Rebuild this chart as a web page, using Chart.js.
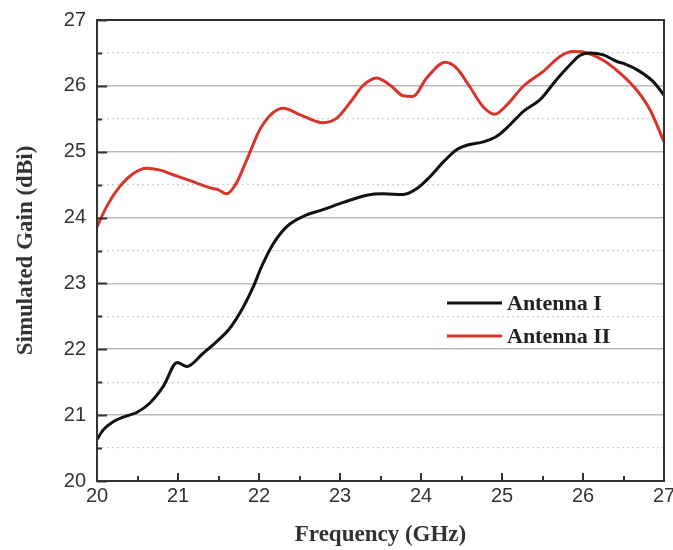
<!DOCTYPE html>
<html>
<head>
<meta charset="utf-8">
<script src="https://cdn.jsdelivr.net/npm/chart.js@4"></script>
<style>
  html, body { margin: 0; padding: 0; background: #fff; }
  #wrap { width: 673px; height: 550px; }
</style>
</head>
<body>
<div id="wrap"><canvas id="myChart"></canvas></div>
<script>
const freqI = [20.00,20.08,20.20,20.37,20.49,20.65,20.82,20.99,21.11,21.31,21.48,21.64,21.81,21.93,22.03,22.18,22.34,22.55,22.79,23.04,23.33,23.53,23.78,23.95,24.11,24.28,24.44,24.60,24.77,24.93,25.10,25.26,25.47,25.67,25.84,25.96,26.09,26.25,26.42,26.50,26.70,26.87,27.00]
const gainI = [20.63,20.78,20.90,20.99,21.04,21.18,21.44,21.80,21.74,21.94,22.12,22.32,22.65,22.95,23.25,23.61,23.86,24.02,24.12,24.23,24.34,24.36,24.35,24.44,24.62,24.85,25.03,25.11,25.15,25.23,25.41,25.61,25.79,26.09,26.32,26.46,26.50,26.47,26.37,26.34,26.22,26.06,25.86]

const freqII = [20.00,20.12,20.28,20.45,20.61,20.78,20.94,21.15,21.40,21.50,21.60,21.72,21.85,22.03,22.30,22.51,22.79,22.96,23.12,23.29,23.45,23.62,23.78,23.90,24.07,24.30,24.44,24.60,24.77,24.91,25.06,25.26,25.51,25.72,25.88,26.05,26.25,26.46,26.66,26.83,27.00]
const gainII = [23.86,24.17,24.47,24.67,24.75,24.72,24.65,24.56,24.45,24.42,24.36,24.52,24.88,25.38,25.66,25.56,25.44,25.51,25.74,26.01,26.12,26.01,25.85,25.84,26.12,26.36,26.27,25.99,25.68,25.57,25.71,25.99,26.22,26.45,26.52,26.50,26.39,26.19,25.94,25.63,25.15]

const seriesNames = ['Antenna I', 'Antenna II']
const xTickValues = [20, 20.5, 21, 21.5, 22, 22.5, 23, 23.5, 24, 24.5, 25, 25.5, 26, 26.5, 27]
const yTickValues = [20, 20.5, 21, 21.5, 22, 22.5, 23, 23.5, 24, 24.5, 25, 25.5, 26, 26.5, 27]

const pts = (xs, ys) => xs.map((x, i) => ({x: x, y: ys[i]}))
const isMajor = v => Math.abs(v - Math.round(v)) < 1e-6

// frame, inward ticks and the legend inside the plot
const framePlugin = {
  id: 'frame',
  afterDraw(chart) {
    const c = chart.ctx, a = chart.chartArea
    const xs = chart.scales.x, ys = chart.scales.y
    c.save()
    c.strokeStyle = '#333'
    c.lineWidth = 2
    c.beginPath()
    yTickValues.forEach(v => {
      const p = Math.round(ys.getPixelForValue(v)) + 0.5
      c.moveTo(a.left, p); c.lineTo(a.left + (isMajor(v) ? 10 : 5), p)
    })
    xTickValues.forEach(v => {
      const p = Math.round(xs.getPixelForValue(v))
      c.moveTo(p, a.bottom); c.lineTo(p, a.bottom - (isMajor(v) ? 8 : 5))
    })
    c.stroke()
    c.strokeRect(a.left, a.top, a.right - a.left, a.bottom - a.top)

    // legend
    c.font = 'bold 22px "Liberation Serif", "Times New Roman", serif'
    c.textBaseline = 'middle'
    c.fillStyle = '#222'
    chart.data.datasets.forEach((ds, i) => {
      const y = a.top + 283 + i * 33
      c.strokeStyle = ds.borderColor
      c.lineWidth = 3
      c.beginPath()
      c.moveTo(a.left + 350, y); c.lineTo(a.left + 405, y)
      c.stroke()
      c.fillText(ds.label, a.left + 410, y + 1)
    })
    c.restore()
  }
}

const ctx = document.getElementById('myChart')
const myChart = new Chart(ctx, {
  type: 'line',
  data: {
    datasets: [{
      label: seriesNames[0],
      data: pts(freqI, gainI),
      borderColor: '#111111',
      borderWidth: 3,
      pointRadius: 0,
      cubicInterpolationMode: 'monotone'
    }, {
      label: seriesNames[1],
      data: pts(freqII, gainII),
      borderColor: '#d9342b',
      borderWidth: 3,
      pointRadius: 0,
      cubicInterpolationMode: 'monotone'
    }]
  },
  options: {
    responsive: true,
    maintainAspectRatio: false,
    animation: false,
    layout: { padding: { top: 20, right: 9, left: 0, bottom: 0 } },
    plugins: { legend: { display: false }, tooltip: { enabled: false } },
    scales: {
      x: {
        type: 'linear',
        min: 20,
        max: 27,
        afterBuildTicks: s => { s.ticks = xTickValues.map(v => ({value: v})) },
        afterFit: s => { s.height = 69; s.paddingLeft = 0; s.paddingRight = 0 },
        grid: { display: false, drawTicks: false },
        border: { display: false },
        ticks: {
          autoSkip: false,
          maxRotation: 0,
          padding: 3,
          color: '#333',
          font: { family: '"Liberation Sans", Arial, sans-serif', size: 20 },
          callback: v => isMajor(v) ? v : ''
        },
        title: {
          display: true,
          text: 'Frequency (GHz)',
          color: '#333',
          padding: { top: 0, bottom: 1 },
          font: { family: '"Liberation Serif", "Times New Roman", serif', size: 23, weight: 'bold' }
        }
      },
      y: {
        min: 20,
        max: 27,
        afterBuildTicks: s => { s.ticks = yTickValues.map(v => ({value: v})) },
        afterFit: s => { s.width = 97; s.paddingTop = 0; s.paddingBottom = 0 },
        grid: {
          drawTicks: false,
          color: c => (c.tick.value === 20 || c.tick.value === 27) ? 'transparent' : (isMajor(c.tick.value) ? '#b9b9c3' : '#cfcfcf'),
          lineWidth: c => isMajor(c.tick.value) ? 1.6 : 1.3
        },
        border: {
          display: false,
          dash: c => (c.tick && !isMajor(c.tick.value)) ? [2, 3] : []
        },
        ticks: {
          autoSkip: false,
          padding: 11,
          color: '#333',
          font: { family: '"Liberation Sans", Arial, sans-serif', size: 20 },
          callback: v => isMajor(v) ? v : ''
        },
        title: {
          display: true,
          text: 'Simulated Gain (dBi)',
          color: '#333',
          padding: { top: 12, bottom: 0 },
          font: { family: '"Liberation Serif", "Times New Roman", serif', size: 23, weight: 'bold' }
        }
      }
    }
  },
  plugins: [framePlugin]
})
</script>
</body>
</html>
